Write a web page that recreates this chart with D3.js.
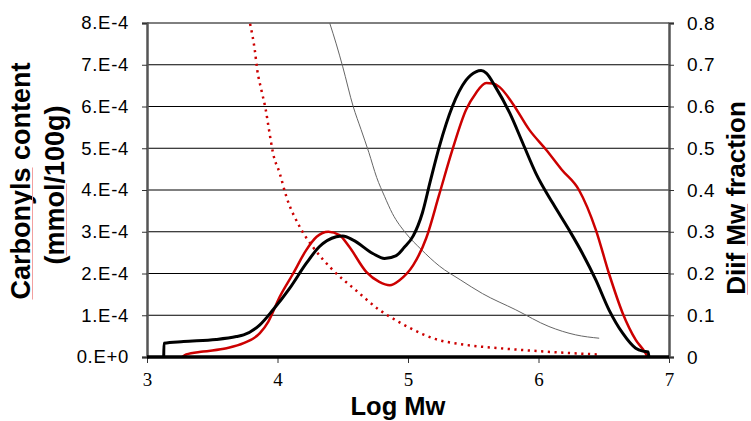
<!DOCTYPE html>
<html>
<head>
<meta charset="utf-8">
<script src="https://cdn.jsdelivr.net/npm/d3@7"></script>
<style>
    html, body { margin: 0; padding: 0; background: #fff; }
    svg { display: block; }
</style>
</head>
<body>
<div id="chart"></div>
<script>
(function () {

    // x axis
    var xTicks = [3, 4, 5, 6, 7];

    // left axis: carbonyls content (mmol/100g)
    var leftTicks = [0, 1e-4, 2e-4, 3e-4, 4e-4, 5e-4, 6e-4, 7e-4, 8e-4];
    var leftTickLabels = ['0.E+0', '1.E-4', '2.E-4', '3.E-4', '4.E-4', '5.E-4', '6.E-4', '7.E-4', '8.E-4'];

    // right axis: diff Mw fraction
    var rightTicks = [0, 0.1, 0.2, 0.3, 0.4, 0.5, 0.6, 0.7, 0.8];
    var rightTickLabels = ['0', '0.1', '0.2', '0.3', '0.4', '0.5', '0.6', '0.7', '0.8'];

    // thick black MWD
    var blackLogMw = [3.128, 3.13, 3.28, 3.53, 3.685, 3.74, 3.865, 3.966, 4.094, 4.22, 4.32, 4.45, 4.50, 4.58,
        4.73, 4.82, 4.91, 4.97, 5.04, 5.11, 5.17, 5.24, 5.34, 5.445, 5.52, 5.56, 5.60, 5.67, 5.78, 5.88,
        5.98, 6.11, 6.235, 6.337, 6.44, 6.54, 6.645, 6.745, 6.80, 6.84, 6.846];
    var blackDiff = [0, 0.033, 0.037, 0.042, 0.049, 0.053, 0.077, 0.113, 0.165, 0.224, 0.264, 0.288, 0.290, 0.280,
        0.248, 0.236, 0.243, 0.262, 0.290, 0.345, 0.420, 0.504, 0.600, 0.663, 0.683, 0.686, 0.680, 0.647, 0.584, 0.512,
        0.440, 0.368, 0.304, 0.248, 0.184, 0.113, 0.057, 0.021, 0.014, 0.012, 0];

    // thick red MWD
    var redLogMw = [3.27, 3.30, 3.43, 3.61, 3.74, 3.865, 3.93, 4.017, 4.12, 4.22, 4.30, 4.39, 4.475, 4.55,
        4.68, 4.78, 4.86, 4.935, 5.04, 5.14, 5.24, 5.34, 5.445, 5.52, 5.60, 5.65, 5.70, 5.80, 5.93,
        6.06, 6.18, 6.31, 6.44, 6.54, 6.645, 6.745, 6.82, 6.835];
    var redDiff = [0, 0.006, 0.013, 0.021, 0.033, 0.057, 0.085, 0.144, 0.200, 0.256, 0.288, 0.300, 0.292, 0.264,
        0.204, 0.180, 0.172, 0.184, 0.220, 0.285, 0.390, 0.496, 0.592, 0.632, 0.656, 0.655, 0.647, 0.608, 0.544,
        0.496, 0.448, 0.400, 0.304, 0.200, 0.105, 0.041, 0.009, 0];

    // dotted red carbonyls
    var dotLogMw = [3.79, 3.826, 3.845, 3.876, 3.91, 3.935, 3.966, 4.017, 4.068, 4.17, 4.27, 4.425, 4.60,
        4.78, 4.935, 5.11, 5.19, 5.445, 5.70, 5.955, 6.21, 6.465];
    var dotCarbonyl = [7.98e-4, 7.35e-4, 6.87e-4, 6.40e-4, 5.92e-4, 5.44e-4, 4.88e-4, 4.40e-4, 3.84e-4, 3.12e-4,
        2.64e-4, 2.08e-4, 1.60e-4, 1.13e-4, 0.83e-4, 0.55e-4, 0.45e-4, 0.29e-4, 0.21e-4, 0.15e-4, 0.10e-4, 0.06e-4];

    // thin grey carbonyls
    var thinLogMw = [4.40, 4.45, 4.50, 4.58, 4.64, 4.70, 4.76, 4.82, 4.88, 4.985, 5.10, 5.24, 5.40, 5.57,
        5.826, 6.08, 6.285, 6.465];
    var thinCarbonyl = [8.0e-4, 7.5e-4, 6.95e-4, 6.0e-4, 5.45e-4, 4.9e-4, 4.3e-4, 3.85e-4, 3.44e-4, 2.96e-4,
        2.58e-4, 2.18e-4, 1.85e-4, 1.52e-4, 1.13e-4, 0.73e-4, 0.53e-4, 0.45e-4];

    var width = 751;
    var height = 421;
    var plot = {left: 147, right: 669, top: 23, bottom: 357};
    var sans = '"Liberation Sans", Arial, sans-serif';
    var serif = '"Liberation Serif", "Times New Roman", serif';
    var red = '#cc0000';

    var svg = d3.select('#chart').append('svg')
        .attr('width', width)
        .attr('height', height)
        .style('background', '#fff');

    var x = d3.scaleLinear().domain([3, 7]).range([plot.left, plot.right]);
    var yLeft = d3.scaleLinear().domain([0, 8e-4]).range([plot.bottom, plot.top]);
    var yRight = d3.scaleLinear().domain([0, 0.8]).range([plot.bottom, plot.top]);

    /**
     * zip two arrays into points
     */
    function zip(xs, ys) {
        return xs.map(function (v, i) {
            return [v, ys[i]];
        });
    }

    /**
     * gridlines
     */
    svg.append('g')
        .selectAll('line')
        .data(rightTicks.slice(1))
        .enter().append('line')
        .attr('x1', plot.left)
        .attr('x2', plot.right)
        .attr('y1', function (d) { return yRight(d); })
        .attr('y2', function (d) { return yRight(d); })
        .attr('stroke', '#000')
        .attr('stroke-width', 1);

    /**
     * left axis
     */
    var leftAxis = svg.append('g')
        .attr('transform', 'translate(' + plot.left + ',0)')
        .call(d3.axisLeft(yLeft)
            .tickValues(leftTicks)
            .tickSize(5)
            .tickPadding(13)
            .tickFormat(function (d, i) { return leftTickLabels[i]; }));
    leftAxis.select('.domain').attr('stroke', '#555').attr('stroke-width', 2.5);
    leftAxis.selectAll('.tick line').attr('stroke', '#333');
    leftAxis.selectAll('text')
        .attr('fill', '#000')
        .style('font-family', sans)
        .style('font-size', '18.5px')
        .style('letter-spacing', '0.7px');

    /**
     * right axis
     */
    var rightAxis = svg.append('g')
        .attr('transform', 'translate(' + plot.right + ',0)')
        .call(d3.axisRight(yRight)
            .tickValues(rightTicks)
            .tickSize(5)
            .tickPadding(13)
            .tickFormat(function (d, i) { return rightTickLabels[i]; }));
    rightAxis.select('.domain').attr('stroke', '#555').attr('stroke-width', 2.5);
    rightAxis.selectAll('.tick line').attr('stroke', '#333');
    rightAxis.selectAll('text')
        .attr('fill', '#000')
        .style('font-family', sans)
        .style('font-size', '19px')
        .style('letter-spacing', '0.6px');

    /**
     * bottom axis
     */
    var bottomAxis = svg.append('g')
        .attr('transform', 'translate(0,' + plot.bottom + ')')
        .call(d3.axisBottom(x)
            .tickValues(xTicks)
            .tickSize(6)
            .tickPadding(10)
            .tickFormat(d3.format('d')));
    bottomAxis.select('.domain').remove();
    bottomAxis.selectAll('.tick line').attr('stroke', '#333');
    bottomAxis.selectAll('text')
        .attr('fill', '#000')
        .style('font-family', serif)
        .style('font-size', '19px');

    /**
     * series
     */
    svg.append('clipPath').attr('id', 'plotClip')
        .append('rect')
        .attr('x', plot.left)
        .attr('y', plot.top)
        .attr('width', plot.right - plot.left)
        .attr('height', plot.bottom - plot.top);

    var series = svg.append('g').attr('clip-path', 'url(#plotClip)');

    var rightLine = d3.line()
        .x(function (d) { return x(d[0]); })
        .y(function (d) { return yRight(d[1]); })
        .curve(d3.curveMonotoneX);

    var leftLine = d3.line()
        .x(function (d) { return x(d[0]); })
        .y(function (d) { return yLeft(d[1]); })
        .curve(d3.curveMonotoneX);

    series.append('path')
        .datum(zip(thinLogMw, thinCarbonyl))
        .attr('d', leftLine)
        .attr('fill', 'none')
        .attr('stroke', '#666')
        .attr('stroke-width', 1);

    series.append('path')
        .datum(zip(dotLogMw, dotCarbonyl))
        .attr('d', leftLine)
        .attr('fill', 'none')
        .attr('stroke', red)
        .attr('stroke-width', 2.5)
        .attr('stroke-dasharray', '2.2,4.5');

    series.append('path')
        .datum(zip(redLogMw, redDiff))
        .attr('d', rightLine)
        .attr('fill', 'none')
        .attr('stroke', red)
        .attr('stroke-width', 2.5)
        .attr('stroke-linejoin', 'round');

    series.append('path')
        .datum(zip(blackLogMw, blackDiff))
        .attr('d', rightLine)
        .attr('fill', 'none')
        .attr('stroke', '#000')
        .attr('stroke-width', 3)
        .attr('stroke-linejoin', 'round');

    // thick baseline along zero
    svg.append('line')
        .attr('x1', plot.left)
        .attr('x2', plot.right)
        .attr('y1', plot.bottom)
        .attr('y2', plot.bottom)
        .attr('stroke', '#000')
        .attr('stroke-width', 3.5);

    /**
     * titles, with the pink spell check underline under some words
     */
    function underline(textNode, group, word, baseline) {
        var str = textNode.textContent;
        var idx = str.indexOf(word);
        if (idx < 0) {
            return;
        }
        var start = textNode.getStartPositionOfChar(idx).x;
        var len = textNode.getSubStringLength(idx, word.length);
        group.append('line')
            .attr('x1', start)
            .attr('x2', start + len)
            .attr('y1', baseline + 2.5)
            .attr('y2', baseline + 2.5)
            .attr('stroke', '#f2a0a0')
            .attr('stroke-width', 1);
    }

    function title(group, label, cx, baseline, size, words) {
        var t = group.append('text')
            .attr('x', cx)
            .attr('y', baseline)
            .attr('text-anchor', 'middle')
            .style('font-family', sans)
            .style('font-weight', 'bold')
            .style('font-size', size + 'px')
            .text(label);
        (words || []).forEach(function (w) {
            underline(t.node(), group, w, baseline);
        });
    }

    var leftTitle = svg.append('g').attr('transform', 'rotate(-90)');
    title(leftTitle, 'Carbonyls content', -181, 30, 27, ['Carbonyls']);
    title(leftTitle, '(mmol/100g)', -185, 64, 27, ['mmol']);

    var rightTitle = svg.append('g').attr('transform', 'rotate(-90)');
    title(rightTitle, 'Diif Mw fraction', -198, 745, 26, ['Diif', 'Mw']);

    title(svg.append('g'), 'Log Mw', 398, 415, 25.5);
})();
</script>
</body>
</html>
